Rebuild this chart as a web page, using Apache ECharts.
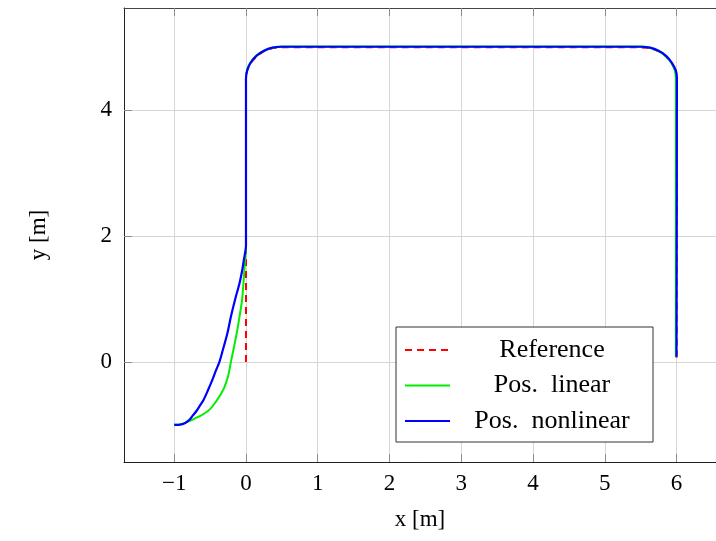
<!DOCTYPE html>
<html>
<head>
<meta charset="utf-8">
<script src="https://cdn.jsdelivr.net/npm/echarts@6/dist/echarts.min.js"></script>
<style>
  html, body { margin: 0; padding: 0; background: #fff; }
  #chart { width: 716px; height: 541px; }
</style>
</head>
<body>
<div id="chart"></div>
<script>
// Planned path (dashed reference)
const refPath = [
  [0, 0], [0, 4.5], [0.017, 4.63], [0.067, 4.75], [0.146, 4.854], [0.25, 4.933],
  [0.37, 4.983], [0.5, 4.995], [5.5, 4.995], [5.63, 4.983], [5.75, 4.933],
  [5.854, 4.854], [5.933, 4.75], [5.983, 4.63], [6, 4.5], [6, 0.06]
];

// Position with the linear controller
const linearPath = [
  [-1, -1], [-0.96, -1.0], [-0.9, -0.985], [-0.83, -0.96], [-0.75, -0.92],
  [-0.66, -0.87], [-0.58, -0.82], [-0.5, -0.75], [-0.43, -0.65], [-0.36, -0.53],
  [-0.3, -0.4], [-0.25, -0.23], [-0.21, 0], [-0.17, 0.22], [-0.13, 0.45],
  [-0.09, 0.72], [-0.055, 0.98], [-0.035, 1.25], [-0.02, 1.5], [-0.008, 1.68],
  [0, 1.8], [0, 4.5],
  [0.016, 4.64], [0.065, 4.76], [0.145, 4.865], [0.25, 4.94], [0.37, 4.99],
  [0.5, 5.01], [5.5, 5.01], [5.63, 4.99], [5.75, 4.935], [5.85, 4.855],
  [5.925, 4.75], [5.975, 4.63], [5.99, 4.5], [5.99, 0.08]
];

// Position with the nonlinear controller
const nonlinearPath = [
  [-1, -1], [-0.96, -1.0], [-0.93, -1.0], [-0.89, -0.99], [-0.86, -0.98],
  [-0.82, -0.95], [-0.78, -0.91], [-0.74, -0.85], [-0.69, -0.78], [-0.64, -0.69],
  [-0.59, -0.6], [-0.53, -0.45], [-0.47, -0.29], [-0.42, -0.14], [-0.37, 0],
  [-0.32, 0.2], [-0.26, 0.45], [-0.21, 0.72], [-0.15, 1.0], [-0.09, 1.25],
  [-0.05, 1.47], [-0.03, 1.62], [-0.01, 1.75], [0, 1.85], [0, 4.5],
  [0.017, 4.63], [0.067, 4.755], [0.146, 4.86], [0.25, 4.94], [0.37, 4.99],
  [0.5, 5.005], [5.5, 5.005], [5.63, 4.99], [5.75, 4.94], [5.854, 4.86],
  [5.935, 4.75], [5.99, 4.63], [6.005, 4.5], [6.0, 0.08]
];

const xTicks = [-1, 0, 1, 2, 3, 4, 5, 6];
const yTicks = [0, 2, 4];

const serif = '"Liberation Serif", "DejaVu Serif", serif';
const chart = echarts.init(document.getElementById('chart'));

const gridLine = { show: true, lineStyle: { color: '#d6d6d6', width: 1 } };
const tickStyle = { show: true, inside: true, length: 8, lineStyle: { color: '#8c8c8c', width: 1 } };

chart.setOption({
  animation: false,
  backgroundColor: '#fff',
  grid: { left: 124, top: 8, right: -1, bottom: 79, containLabel: false },
  xAxis: [
    {
      type: 'value', min: -1.7, max: 6.55, position: 'bottom',
      name: 'x [m]', nameLocation: 'middle', nameGap: 46,
      nameTextStyle: { fontFamily: serif, fontSize: 23, color: '#000' },
      axisLine: { show: true, onZero: false, lineStyle: { color: '#222', width: 1 } },
      axisTick: Object.assign({ customValues: xTicks }, tickStyle),
      splitLine: gridLine,
      axisLabel: {
        customValues: xTicks, margin: 10, fontFamily: serif, fontSize: 23, color: '#000',
        formatter: v => (v < 0 ? '\u2212' + Math.abs(v) : String(v))
      }
    },
    {
      type: 'value', min: -1.7, max: 6.55, position: 'top',
      axisLine: { show: true, onZero: false, lineStyle: { color: '#444', width: 1 } },
      axisTick: Object.assign({ customValues: xTicks }, tickStyle),
      splitLine: { show: false },
      axisLabel: { show: false }
    }
  ],
  yAxis: {
    type: 'value', min: -1.59, max: 5.62,
    name: 'y [m]', nameLocation: 'middle', nameGap: 74, nameRotate: 90,
    nameTextStyle: { fontFamily: serif, fontSize: 23, color: '#000' },
    axisLine: { show: true, onZero: false, lineStyle: { color: '#222', width: 1 } },
    axisTick: Object.assign({ customValues: yTicks }, tickStyle),
    splitLine: gridLine,
    axisLabel: { customValues: yTicks, margin: 12, fontFamily: serif, fontSize: 23, color: '#000' }
  },
  legend: {
    show: true,
    left: 396, top: 327, orient: 'vertical',
    backgroundColor: '#fff', borderColor: '#333', borderWidth: 1,
    padding: [10, 4, 8, 8], itemGap: 9.5, itemWidth: 45, itemHeight: 26,
    itemStyle: { opacity: 0 },
    textStyle: {
      fontFamily: serif, fontSize: 26, color: '#000',
      rich: { t: { width: 194, align: 'center', fontFamily: serif, fontSize: 26, lineHeight: 26 } }
    },
    // wider sentence space after the abbreviation, as typeset
    formatter: name => '{t|' + name.replace('. ', '.\u2002') + '}',
    data: ['Reference', 'Pos. linear', 'Pos. nonlinear']
  },
  series: [
    {
      name: 'Reference', type: 'line', data: refPath, symbol: 'none',
      color: '#ff0000', z: 2,
      lineStyle: { color: '#ff0000', width: 2, type: [7, 5] }
    },
    {
      name: 'Pos. linear', type: 'line', data: linearPath, symbol: 'none',
      color: '#00ee00', z: 3, smooth: 0.3,
      lineStyle: { color: '#00ee00', width: 2 }
    },
    {
      name: 'Pos. nonlinear', type: 'line', data: nonlinearPath, symbol: 'none',
      color: '#0000ff', z: 4, smooth: 0.3,
      lineStyle: { color: '#0000ff', width: 2.2 }
    }
  ]
});
</script>
</body>
</html>
